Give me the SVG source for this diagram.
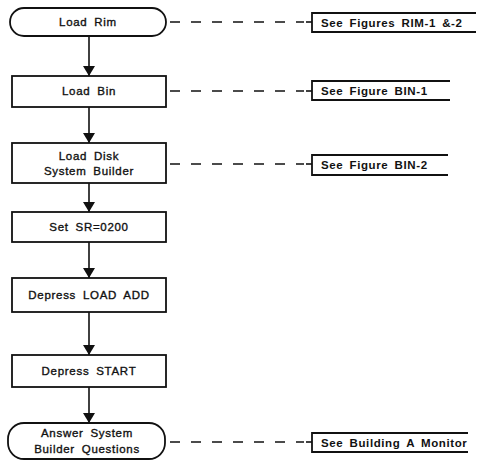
<svg xmlns="http://www.w3.org/2000/svg" width="478" height="463" viewBox="0 0 478 463">
<style>
.box{fill:#fff;stroke:#111;stroke-width:1.8}
.ann{fill:none;stroke:#111;stroke-width:1.8}
.t{font-family:"Liberation Sans",Arial,sans-serif;font-size:11.5px;fill:#111;stroke:#111;stroke-width:0.35;text-anchor:middle;letter-spacing:0.7px;word-spacing:3px}
.a{font-family:"Liberation Sans",Arial,sans-serif;font-size:11.5px;font-weight:bold;fill:#111;letter-spacing:0.6px;word-spacing:2.5px}
.flow{stroke:#111;stroke-width:1.6;fill:none}
.dash{stroke:#111;stroke-width:1.5;fill:none;stroke-dasharray:10 11}
</style>
<defs>
<marker id="ah" viewBox="0 0 10 12" refX="10" refY="6" markerWidth="10" markerHeight="12" markerUnits="userSpaceOnUse" orient="auto">
<path d="M0,0 L10,6 L0,12 Z" fill="#111"/>
</marker>
</defs>
<g id="connectors">
<line class="flow" x1="89" y1="36" x2="89" y2="76" marker-end="url(#ah)"/>
<line class="flow" x1="89" y1="107" x2="89" y2="143" marker-end="url(#ah)"/>
<line class="flow" x1="89" y1="183" x2="89" y2="212" marker-end="url(#ah)"/>
<line class="flow" x1="89" y1="242" x2="89" y2="278" marker-end="url(#ah)"/>
<line class="flow" x1="89" y1="312" x2="89" y2="355" marker-end="url(#ah)"/>
<line class="flow" x1="89" y1="387" x2="89" y2="423" marker-end="url(#ah)"/>
<line class="dash" x1="170" y1="22" x2="304" y2="22"/><line class="flow" x1="306" y1="22" x2="312" y2="22"/>
<line class="dash" x1="170" y1="91" x2="304" y2="91"/><line class="flow" x1="306" y1="91" x2="312" y2="91"/>
<line class="dash" x1="170" y1="164" x2="304" y2="164"/><line class="flow" x1="306" y1="164" x2="312" y2="164"/>
<line class="dash" x1="170" y1="442" x2="304" y2="442"/><line class="flow" x1="306" y1="442" x2="312" y2="442"/>
</g>
<g id="n1"><rect class="box" x="10" y="8" width="156" height="28" rx="14"/><text class="t" x="88" y="26">Load Rim</text></g>
<g id="n2"><rect class="box" x="12" y="76" width="154" height="31"/><text class="t" x="89" y="95">Load Bin</text></g>
<g id="n3"><rect class="box" x="12" y="143" width="154" height="40"/><text class="t" x="89" y="160">Load Disk</text><text class="t" x="89" y="175">System Builder</text></g>
<g id="n4"><rect class="box" x="12" y="212" width="154" height="30"/><text class="t" x="89" y="231">Set SR=0200</text></g>
<g id="n5"><rect class="box" x="12" y="278" width="154" height="34"/><text class="t" x="89" y="299">Depress LOAD ADD</text></g>
<g id="n6"><rect class="box" x="12" y="355" width="154" height="32"/><text class="t" x="89" y="375">Depress START</text></g>
<g id="n7"><rect class="box" x="8" y="423" width="157" height="36" rx="16"/><text class="t" x="87" y="437">Answer System</text><text class="t" x="87" y="453">Builder Questions</text></g>
<g id="a1"><path class="ann" d="M476,13 H312 V32 H476"/><text class="a" x="321" y="27">See Figures RIM-1 &amp;-2</text></g>
<g id="a2"><path class="ann" d="M450,81 H312 V100 H450"/><text class="a" x="321" y="95">See Figure BIN-1</text></g>
<g id="a3"><path class="ann" d="M448,155 H312 V175 H448"/><text class="a" x="321" y="169">See Figure BIN-2</text></g>
<g id="a4"><path class="ann" d="M468,433 H312 V452 H468"/><text class="a" x="321" y="447">See Building A Monitor</text></g>
</svg>
